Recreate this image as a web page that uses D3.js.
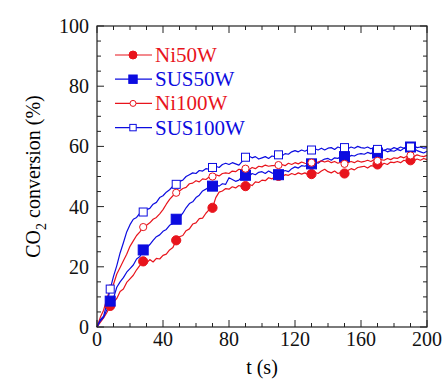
<!DOCTYPE html>
<html>
<head>
<meta charset="utf-8">
<script src="https://cdn.jsdelivr.net/npm/d3@7"></script>
<style>
  body { margin: 0; background: #fff; }
  svg { display: block; }
  svg text { font-family: "Liberation Serif", "Times New Roman", Times, "DejaVu Serif", serif; }
</style>
</head>
<body>
<script>
// time axis (s), one reading every 2 s
const times = d3.range(0, 201, 2);

const ni50w = [0, 1.5, 3.0, 4.8, 7.0, 8.2, 9.5, 11.8, 12.6, 14.8, 16.0, 17.2, 19.0, 20.5, 21.8, 21.2, 22.4, 21.6, 22.8, 22.6,
  23.8, 24.2, 25.6, 26.4, 28.8, 30.0, 30.4, 32.0, 32.6, 34.2, 34.6, 36.0, 36.2, 37.8, 39.0, 39.6, 43.0, 44.8, 45.2, 46.0,
  45.8, 46.6, 46.2, 47.0, 46.6, 46.8, 47.4, 47.0, 48.2, 48.0, 48.8, 48.6, 49.6, 49.2, 50.0, 50.2, 49.8, 50.6, 50.4, 51.0,
  50.6, 51.2, 50.8, 51.2, 50.6, 50.8, 51.4, 51.0, 51.8, 52.4, 51.6, 51.2, 51.8, 51.0, 51.4, 51.0, 52.0, 52.6, 52.2, 53.0,
  53.2, 53.4, 52.8, 53.6, 53.4, 54.0, 53.6, 54.4, 54.0, 54.8, 54.6, 55.0, 54.6, 55.4, 55.0, 55.4, 55.2, 55.8, 55.4, 56.0, 55.6];

const sus50w = [0, 2.0, 3.2, 5.8, 8.6, 9.6, 13.2, 15.0, 16.4, 18.2, 19.4, 20.6, 22.6, 23.4, 25.6, 26.2, 27.4, 28.8, 30.0, 30.6,
  31.8, 32.4, 33.8, 34.4, 35.8, 36.4, 37.8, 39.6, 41.0, 41.6, 43.0, 43.8, 45.2, 45.8, 46.6, 46.8, 47.2, 46.8, 47.6, 47.4,
  49.6, 49.0, 48.4, 48.8, 50.0, 50.4, 50.0, 51.0, 50.6, 51.4, 51.6, 51.0, 51.8, 51.2, 50.8, 50.6, 51.4, 52.0, 51.6, 52.6,
  53.2, 52.8, 53.6, 53.4, 54.0, 54.2, 54.8, 54.4, 55.2, 55.8, 56.0, 55.4, 56.2, 56.0, 56.8, 56.6, 56.2, 57.0, 56.8, 57.4,
  57.6, 57.4, 58.0, 57.6, 58.2, 57.8, 58.4, 58.8, 58.2, 58.6, 58.4, 59.0, 58.6, 59.4, 59.2, 59.8, 59.4, 58.6, 58.2, 57.8, 58.4];

const ni100w = [0, 3.2, 5.6, 9.4, 12.8, 14.2, 17.6, 19.8, 22.0, 24.2, 26.8, 28.6, 30.4, 31.6, 33.2, 33.8, 34.6, 35.8, 36.4, 37.6,
  39.0, 40.8, 42.4, 43.6, 44.6, 45.2, 46.0, 46.4, 47.6, 47.8, 48.6, 48.2, 49.2, 49.0, 49.8, 50.0, 50.6, 50.2, 51.0, 51.2,
  51.0, 51.8, 51.6, 52.4, 52.2, 52.6, 52.2, 53.0, 52.6, 53.4, 53.2, 53.8, 53.4, 53.6, 53.6, 53.8, 54.0, 53.6, 54.4, 54.0,
  54.6, 54.2, 54.8, 54.4, 54.2, 54.6, 54.2, 54.8, 55.2, 54.8, 55.2, 54.6, 55.0, 54.4, 54.8, 54.2, 54.6, 55.0, 54.6, 55.2,
  54.8, 55.0, 55.4, 55.0, 55.6, 55.2, 55.6, 55.4, 56.0, 55.6, 56.2, 56.0, 56.6, 56.2, 56.8, 57.0, 56.6, 57.2, 56.8, 56.6, 57.0];

const sus100w = [0, 2.4, 3.6, 7.8, 12.6, 16.8, 20.4, 24.6, 28.0, 31.6, 34.0, 35.8, 36.4, 37.8, 38.2, 39.0, 39.4, 40.8, 41.4, 43.0,
  43.6, 44.8, 45.6, 46.8, 47.4, 48.4, 48.8, 50.0, 50.6, 51.2, 51.0, 52.0, 51.8, 52.6, 52.4, 53.0, 53.4, 53.0, 54.0, 54.4,
  54.0, 54.6, 54.2, 53.8, 55.0, 56.4, 56.8, 56.2, 56.6, 55.8, 56.2, 56.6, 56.0, 56.8, 56.6, 57.2, 56.8, 57.6, 57.4, 58.2,
  58.6, 58.2, 58.8, 58.4, 59.0, 58.8, 59.2, 58.8, 59.4, 58.8, 59.4, 59.6, 59.0, 59.8, 59.4, 59.6, 59.2, 59.8, 59.4, 60.0,
  59.6, 59.4, 59.8, 59.2, 59.6, 59.0, 58.8, 58.6, 59.2, 59.0, 59.6, 59.2, 59.8, 59.4, 60.0, 59.8, 60.2, 59.6, 59.8, 59.4, 59.6];

// markers sit on every 10th-ish reading
const markerTimes = [8, 28, 48, 70, 90, 110, 130, 150, 170, 190];

const xTicks = [0, 40, 80, 120, 160, 200];
const yTicks = [0, 20, 40, 60, 80, 100];

const series = [
  { name: "Ni50W", values: ni50w, color: "#e8141c", shape: "circle", filled: true },
  { name: "SUS50W", values: sus50w, color: "#0c0ce0", shape: "square", filled: true },
  { name: "Ni100W", values: ni100w, color: "#e8141c", shape: "circle", filled: false },
  { name: "SUS100W", values: sus100w, color: "#0c0ce0", shape: "square", filled: false }
];

const width = 444, height = 379;
const mLeft = 97, mRight = 427, mTop = 26, mBottom = 327;
const serif = "'Liberation Serif', 'Times New Roman', Times, 'DejaVu Serif', serif";

const x = d3.scaleLinear().domain([0, 200]).range([mLeft, mRight]);
const y = d3.scaleLinear().domain([0, 100]).range([mBottom, mTop]);

const svg = d3.select("body").append("svg")
  .attr("width", width)
  .attr("height", height)
  .attr("font-family", serif);

// lines
const line = d3.line()
  .x((d, i) => x(times[i]))
  .y(d => y(d));

series.forEach(s => {
  svg.append("path")
    .attr("d", line(s.values))
    .attr("fill", "none")
    .attr("stroke", s.color)
    .attr("stroke-width", 1.2)
    .attr("stroke-linejoin", "round");
});

function drawMarker(g, s, cx, cy, small) {
  const fill = s.filled ? s.color : "#fff";
  if (s.shape == "circle") {
    g.append("circle")
      .attr("cx", cx).attr("cy", cy)
      .attr("r", s.filled ? (small ? 4 : 4.6) : (small ? 3 : 3.6))
      .attr("fill", fill)
      .attr("stroke", s.color)
      .attr("stroke-width", 1);
  } else {
    const h = s.filled ? (small ? 4.2 : 5) : (small ? 3.2 : 4);
    g.append("rect")
      .attr("x", cx - h).attr("y", cy - h)
      .attr("width", 2 * h).attr("height", 2 * h)
      .attr("fill", fill)
      .attr("stroke", s.color)
      .attr("stroke-width", 1);
  }
}

series.forEach(s => {
  const g = svg.append("g");
  markerTimes.forEach(t => {
    const i = times.indexOf(t);
    drawMarker(g, s, x(t), y(s.values[i]), false);
  });
});

// frame
svg.append("rect")
  .attr("x", mLeft).attr("y", mTop)
  .attr("width", mRight - mLeft).attr("height", mBottom - mTop)
  .attr("fill", "none")
  .attr("stroke", "#222")
  .attr("stroke-width", 1.2);

// inward ticks on all four sides
const xMinor = d3.range(0, 201, 10);
const yMinor = d3.range(0, 101, 5);

xMinor.forEach(t => {
  const len = t % 40 == 0 ? 7 : 4;
  svg.append("line").attr("x1", x(t)).attr("x2", x(t)).attr("y1", mBottom).attr("y2", mBottom - len).attr("stroke", "#222");
  svg.append("line").attr("x1", x(t)).attr("x2", x(t)).attr("y1", mTop).attr("y2", mTop + len).attr("stroke", "#222");
});
yMinor.forEach(v => {
  const len = v % 20 == 0 ? 7 : 4;
  svg.append("line").attr("y1", y(v)).attr("y2", y(v)).attr("x1", mLeft).attr("x2", mLeft + len).attr("stroke", "#222");
  svg.append("line").attr("y1", y(v)).attr("y2", y(v)).attr("x1", mRight).attr("x2", mRight - len).attr("stroke", "#222");
});

// tick labels
svg.selectAll(".xl").data(xTicks).enter().append("text")
  .attr("x", d => x(d))
  .attr("y", 346)
  .attr("text-anchor", "middle")
  .attr("font-family", serif)
  .style("font-size", "20px")
  .attr("fill", "#111")
  .text(d => d);

svg.selectAll(".yl").data(yTicks).enter().append("text")
  .attr("x", 89)
  .attr("y", d => y(d) + 7)
  .attr("text-anchor", "end")
  .attr("font-family", serif)
  .style("font-size", "20px")
  .attr("fill", "#111")
  .text(d => d);

// axis titles
svg.append("text")
  .attr("x", (mLeft + mRight) / 2)
  .attr("y", 374)
  .attr("text-anchor", "middle")
  .attr("font-family", serif)
  .style("font-size", "20px")
  .text("t (s)");

const yt = svg.append("text")
  .attr("transform", `translate(40,${(mTop + mBottom) / 2}) rotate(-90)`)
  .attr("text-anchor", "middle")
  .attr("font-family", serif)
  .style("font-size", "20px");
yt.append("tspan").text("CO");
yt.append("tspan").attr("dy", 6).style("font-size", "14px").text("2");
yt.append("tspan").attr("dy", -6).text(" conversion (%)");

// legend
const legend = svg.append("g");
series.forEach((s, i) => {
  const ly = 55 + i * 24.2;
  legend.append("line")
    .attr("x1", 115).attr("x2", 152)
    .attr("y1", ly).attr("y2", ly)
    .attr("stroke", s.color)
    .attr("stroke-width", 1.2);
  drawMarker(legend, s, 133, ly, true);
  legend.append("text")
    .attr("x", 155)
    .attr("y", ly + 7)
    .attr("font-family", serif)
    .style("font-size", "21px")
    .attr("fill", s.color)
    .text(s.name);
});
</script>
</body>
</html>
